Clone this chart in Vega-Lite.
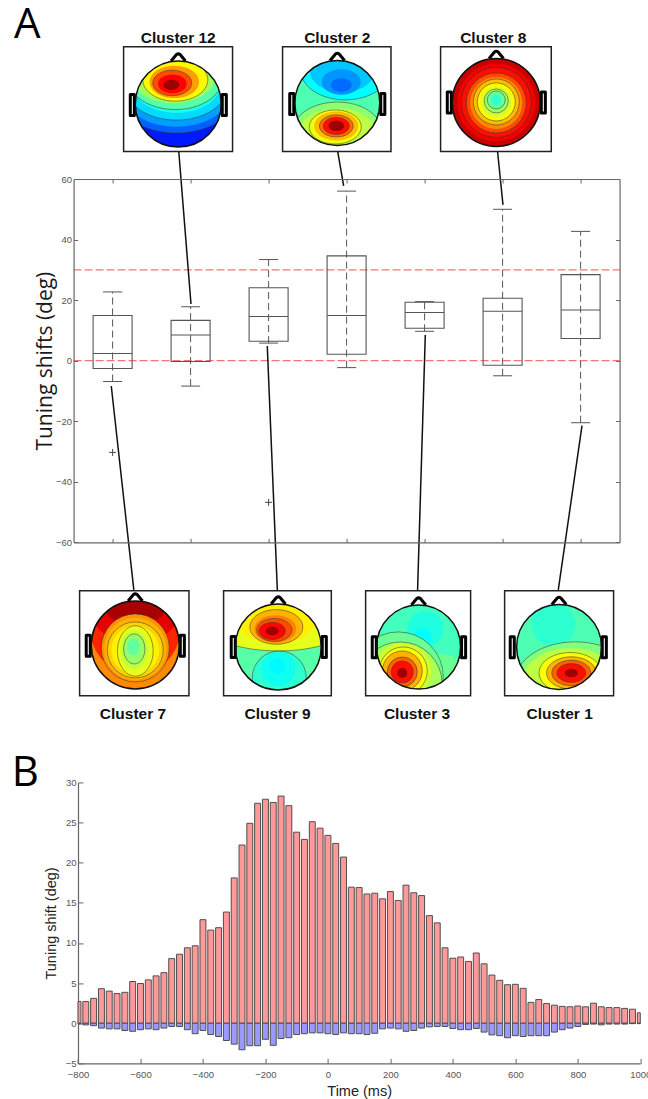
{
"$schema":"https://vega.github.io/schema/vega-lite/v6.json",
"background":"white",
"padding":{"left":-24.4,"top":-57,"right":56,"bottom":0},
"bounds":"flush",
"spacing":239.4,
"config":{"view":{"stroke":null},"font":"Liberation Sans","scale":{"continuousPadding":0}},
"datasets":{
"maps":[
{"m":12,"x":1.842,"y":84.79,"radius":1.0,"level":0.15,"form":"c","line":0},
{"m":12,"x":1.817,"y":88.09,"radius":1.07,"level":0.22,"form":"w","line":1},
{"m":12,"x":1.817,"y":89.09,"radius":0.977,"level":0.28,"form":"w","line":0},
{"m":12,"x":1.817,"y":90.41,"radius":0.907,"level":0.34,"form":"w","line":1},
{"m":12,"x":1.817,"y":91.4,"radius":0.791,"level":0.4,"form":"w","line":0},
{"m":12,"x":1.804,"y":93.05,"radius":0.837,"level":0.46,"form":"w","line":1},
{"m":12,"x":1.778,"y":94.37,"radius":0.767,"level":0.53,"form":"w","line":0},
{"m":12,"x":1.804,"y":92.72,"radius":0.581,"level":0.63,"form":"w","line":1},
{"m":12,"x":1.791,"y":92.06,"radius":0.442,"level":0.72,"form":"w","line":0},
{"m":12,"x":1.765,"y":91.73,"radius":0.349,"level":0.8,"form":"w","line":1},
{"m":12,"x":1.765,"y":91.4,"radius":0.256,"level":0.875,"form":"w","line":0},
{"m":12,"x":1.753,"y":91.07,"radius":0.14,"level":0.97,"form":"w","line":0},
{"m":2,"x":3.881,"y":85.12,"radius":0.988,"level":0.45,"form":"c","line":0},
{"m":2,"x":3.983,"y":95.69,"radius":0.791,"level":0.375,"form":"w","line":1},
{"m":2,"x":3.945,"y":95.69,"radius":0.581,"level":0.32,"form":"w","line":0},
{"m":2,"x":3.932,"y":92.06,"radius":0.349,"level":0.27,"form":"w","line":0},
{"m":2,"x":3.932,"y":91.07,"radius":0.186,"level":0.23,"form":"w","line":0},
{"m":2,"x":3.881,"y":75.87,"radius":0.791,"level":0.51,"form":"w","line":1},
{"m":2,"x":3.881,"y":74.88,"radius":0.698,"level":0.56,"form":"w","line":0},
{"m":2,"x":3.855,"y":77.19,"radius":0.465,"level":0.61,"form":"w","line":1},
{"m":2,"x":3.868,"y":77.52,"radius":0.395,"level":0.69,"form":"w","line":0},
{"m":2,"x":3.868,"y":77.52,"radius":0.302,"level":0.77,"form":"w","line":1},
{"m":2,"x":3.868,"y":77.52,"radius":0.233,"level":0.86,"form":"w","line":1},
{"m":2,"x":3.868,"y":77.52,"radius":0.14,"level":0.97,"form":"w","line":0},
{"m":8,"x":5.919,"y":85.29,"radius":1.023,"level":0.93,"form":"c","line":0},
{"m":8,"x":5.919,"y":85.29,"radius":0.907,"level":0.89,"form":"c","line":0},
{"m":8,"x":5.919,"y":85.29,"radius":0.814,"level":0.86,"form":"c","line":1},
{"m":8,"x":5.919,"y":85.12,"radius":0.698,"level":0.8,"form":"c","line":1},
{"m":8,"x":5.919,"y":85.12,"radius":0.605,"level":0.74,"form":"c","line":0},
{"m":8,"x":5.919,"y":85.45,"radius":0.535,"level":0.69,"form":"c","line":1},
{"m":8,"x":5.919,"y":85.45,"radius":0.442,"level":0.63,"form":"c","line":1},
{"m":8,"x":5.919,"y":85.45,"radius":0.349,"level":0.58,"form":"c","line":0},
{"m":8,"x":5.919,"y":85.78,"radius":0.279,"level":0.53,"form":"c","line":1},
{"m":8,"x":5.919,"y":86.11,"radius":0.209,"level":0.47,"form":"c","line":1},
{"m":8,"x":5.919,"y":86.11,"radius":0.116,"level":0.42,"form":"c","line":0},
{"m":7,"x":1.291,"y":-93.91,"radius":1.023,"level":0.74,"form":"c","line":0},
{"m":7,"x":1.291,"y":-88.62,"radius":1.047,"level":0.84,"form":"c","line":0},
{"m":7,"x":1.291,"y":-84.33,"radius":0.744,"level":0.9,"form":"w","line":0},
{"m":7,"x":1.291,"y":-80.7,"radius":0.558,"level":0.96,"form":"w","line":0},
{"m":7,"x":1.291,"y":-94.9,"radius":0.791,"level":0.73,"form":"c","line":1},
{"m":7,"x":1.291,"y":-95.23,"radius":0.721,"level":0.7,"form":"c","line":0},
{"m":7,"x":1.291,"y":-95.56,"radius":0.651,"level":0.67,"form":"c","line":1},
{"m":7,"x":1.291,"y":-95.56,"radius":0.558,"level":0.64,"form":"c","line":0},
{"m":7,"x":1.291,"y":-95.89,"radius":0.488,"level":0.6,"form":"t","line":1},
{"m":7,"x":1.278,"y":-95.56,"radius":0.372,"level":0.565,"form":"t","line":0},
{"m":7,"x":1.278,"y":-95.23,"radius":0.291,"level":0.52,"form":"t","line":1},
{"m":7,"x":1.265,"y":-94.57,"radius":0.163,"level":0.47,"form":"t","line":0},
{"m":9,"x":3.124,"y":-94.57,"radius":1.0,"level":0.46,"form":"c","line":0},
{"m":9,"x":3.124,"y":-87.96,"radius":0.93,"level":0.6,"form":"f","line":1},
{"m":9,"x":3.099,"y":-85.32,"radius":0.698,"level":0.64,"form":"w","line":0},
{"m":9,"x":3.099,"y":-87.96,"radius":0.474,"level":0.7,"form":"w","line":1},
{"m":9,"x":3.086,"y":-88.62,"radius":0.372,"level":0.75,"form":"w","line":0},
{"m":9,"x":3.073,"y":-88.95,"radius":0.314,"level":0.8,"form":"w","line":1},
{"m":9,"x":3.047,"y":-89.28,"radius":0.233,"level":0.87,"form":"w","line":1},
{"m":9,"x":3.047,"y":-89.28,"radius":0.116,"level":0.97,"form":"w","line":0},
{"m":9,"x":3.137,"y":-104.81,"radius":0.628,"level":0.42,"form":"c","line":1},
{"m":9,"x":3.124,"y":-101.83,"radius":0.395,"level":0.39,"form":"c","line":0},
{"m":9,"x":3.112,"y":-100.84,"radius":0.186,"level":0.37,"form":"c","line":0},
{"m":3,"x":4.923,"y":-94.57,"radius":0.977,"level":0.44,"form":"c","line":0},
{"m":3,"x":5.009,"y":-88.62,"radius":0.419,"level":0.405,"form":"c","line":0},
{"m":3,"x":4.971,"y":-91.27,"radius":0.209,"level":0.375,"form":"c","line":0},
{"m":3,"x":4.663,"y":-104.48,"radius":1.047,"level":0.48,"form":"c","line":1},
{"m":3,"x":5.201,"y":-108.44,"radius":0.814,"level":0.48,"form":"c","line":0},
{"m":3,"x":4.688,"y":-106.79,"radius":0.977,"level":0.54,"form":"c","line":1},
{"m":3,"x":4.727,"y":-102.49,"radius":0.651,"level":0.58,"form":"c","line":0},
{"m":3,"x":4.727,"y":-102.49,"radius":0.558,"level":0.62,"form":"c","line":1},
{"m":3,"x":4.714,"y":-102.49,"radius":0.465,"level":0.7,"form":"c","line":1},
{"m":3,"x":4.714,"y":-102.83,"radius":0.349,"level":0.78,"form":"c","line":1},
{"m":3,"x":4.714,"y":-102.83,"radius":0.256,"level":0.86,"form":"c","line":1},
{"m":3,"x":4.714,"y":-103.16,"radius":0.116,"level":0.97,"form":"c","line":0},
{"m":1,"x":6.724,"y":-94.57,"radius":0.988,"level":0.45,"form":"c","line":0},
{"m":1,"x":6.65,"y":-86.97,"radius":0.512,"level":0.42,"form":"c","line":0},
{"m":1,"x":6.932,"y":-105.8,"radius":1.07,"level":0.5,"form":"w","line":1},
{"m":1,"x":6.868,"y":-105.14,"radius":0.837,"level":0.56,"form":"w","line":0},
{"m":1,"x":6.868,"y":-103.16,"radius":0.558,"level":0.62,"form":"w","line":1},
{"m":1,"x":6.881,"y":-103.16,"radius":0.442,"level":0.7,"form":"w","line":1},
{"m":1,"x":6.881,"y":-103.16,"radius":0.349,"level":0.78,"form":"w","line":1},
{"m":1,"x":6.881,"y":-103.16,"radius":0.256,"level":0.86,"form":"w","line":1},
{"m":1,"x":6.881,"y":-103.16,"radius":0.116,"level":0.97,"form":"w","line":0}
],
"heads":[
{"m":12,"x":1.842,"y":84.79,"radius":1.0,"outer":1.535},
{"m":2,"x":3.881,"y":85.12,"radius":0.988,"outer":1.523},
{"m":8,"x":5.919,"y":85.29,"radius":1.023,"outer":1.558},
{"m":7,"x":1.291,"y":-93.91,"radius":1.023,"outer":1.558},
{"m":9,"x":3.124,"y":-94.57,"radius":1.0,"outer":1.535},
{"m":3,"x":4.923,"y":-94.57,"radius":0.977,"outer":1.512},
{"m":1,"x":6.724,"y":-94.57,"radius":0.988,"outer":1.523}
],
"parts":[
{"x":1.842,"y":100.15,"part":"nose"},{"x":1.253,"y":84.46,"part":"ear"},{"x":2.432,"y":84.46,"part":"ear"},
{"x":3.881,"y":100.32,"part":"nose"},{"x":3.297,"y":84.79,"part":"ear"},{"x":4.464,"y":84.79,"part":"ear"},
{"x":5.919,"y":100.98,"part":"nose"},{"x":5.317,"y":85.23,"part":"ear"},{"x":6.522,"y":85.23,"part":"ear"},
{"x":1.291,"y":-78.22,"part":"nose"},{"x":0.688,"y":-94.14,"part":"ear"},{"x":1.894,"y":-94.14,"part":"ear"},
{"x":3.124,"y":-79.21,"part":"nose"},{"x":2.547,"y":-94.57,"part":"ear"},{"x":3.714,"y":-94.57,"part":"ear"},
{"x":4.923,"y":-79.54,"part":"nose"},{"x":4.355,"y":-94.67,"part":"ear"},{"x":5.5,"y":-94.67,"part":"ear"},
{"x":6.724,"y":-79.37,"part":"nose"},{"x":6.124,"y":-94.67,"part":"ear"},{"x":7.304,"y":-94.67,"part":"ear"}
],
"frames":[
{"x":1.141,"x2":2.538,"y":103.72,"y2":69.1},
{"x":3.179,"x2":4.569,"y":103.72,"y2":69.1},
{"x":5.205,"x2":6.624,"y":103.72,"y2":69.1},
{"x":0.577,"x2":1.979,"y":-75.97,"y2":-110.65},
{"x":2.423,"x2":3.804,"y":-75.97,"y2":-110.65},
{"x":4.244,"x2":5.59,"y":-75.97,"y2":-110.65},
{"x":6.026,"x2":7.423,"y":-75.97,"y2":-110.65}
],
"links":[
{"x":1.849,"y":68.93,"x2":2.005,"y2":18.73},
{"x":3.887,"y":68.93,"x2":3.962,"y2":57.7},
{"x":5.936,"y":68.93,"x2":6.005,"y2":51.43},
{"x":0.983,"y":-8.36,"x2":1.272,"y2":-75.74},
{"x":2.983,"y":4.86,"x2":3.112,"y2":-75.74},
{"x":5.009,"y":8.49,"x2":4.91,"y2":-75.74},
{"x":7.018,"y":-21.47,"x2":6.714,"y2":-75.74}
],
"boxes":[
{"x":1,"q1":-2.6,"med":2.4,"q3":14.9,"lo":-6.9,"hi":22.7},
{"x":2,"q1":-0.3,"med":8.5,"q3":13.3,"lo":-8.4,"hi":17.8},
{"x":3,"q1":6.4,"med":14.6,"q3":24.1,"lo":5.8,"hi":33.4},
{"x":4,"q1":2.1,"med":14.9,"q3":34.6,"lo":-2.3,"hi":56},
{"x":5,"q1":10.7,"med":15.9,"q3":19.3,"lo":9.7,"hi":19.5},
{"x":6,"q1":-1.5,"med":16.3,"q3":20.6,"lo":-5,"hi":50},
{"x":7,"q1":7.3,"med":16.7,"q3":28.4,"lo":-20.5,"hi":42.7}
],
"outliers":[{"x":1,"y":-30.3},{"x":3,"y":-46.8}],
"refs":[{"x":0.5,"x2":7.5,"y":30},{"x":0.5,"x2":7.5,"y":0}],
"titles":[
{"x":1.842,"y":106.65,"label":"Cluster 12"},
{"x":3.881,"y":106.65,"label":"Cluster 2"},
{"x":5.881,"y":106.65,"label":"Cluster 8"},
{"x":1.261,"y":-116.8,"label":"Cluster 7"},
{"x":3.115,"y":-116.8,"label":"Cluster 9"},
{"x":4.903,"y":-116.8,"label":"Cluster 3"},
{"x":6.731,"y":-116.8,"label":"Cluster 1"}
],
"letters":[{"x":-0.095,"y":110.9,"label":"A"},{"x":-0.12,"y":-136.2,"label":"B"}],
"tuning":[
{"from":-809.5,"to":-790.5,"up":2.7,"down":-0.1},{"from":-784.5,"to":-765.5,"up":2.7,"down":-0.2},{"from":-759.5,"to":-740.5,"up":3.1,"down":-0.3},{"from":-734.5,"to":-715.5,"up":4.3,"down":-0.6},{"from":-709.5,"to":-690.5,"up":4.0,"down":-0.7},{"from":-684.5,"to":-665.5,"up":3.7,"down":-0.7},{"from":-659.5,"to":-640.5,"up":3.85,"down":-0.9},{"from":-634.5,"to":-615.5,"up":5.2,"down":-1.0},{"from":-609.5,"to":-590.5,"up":4.95,"down":-0.8},{"from":-584.5,"to":-565.5,"up":5.4,"down":-0.7},{"from":-559.5,"to":-540.5,"up":5.9,"down":-0.8},{"from":-534.5,"to":-515.5,"up":6.3,"down":-0.6},{"from":-509.5,"to":-490.5,"up":8.05,"down":-0.4},{"from":-484.5,"to":-465.5,"up":8.6,"down":-0.4},{"from":-459.5,"to":-440.5,"up":9.4,"down":-0.8},{"from":-434.5,"to":-415.5,"up":9.65,"down":-1.3},{"from":-409.5,"to":-390.5,"up":12.9,"down":-0.9},{"from":-384.5,"to":-365.5,"up":11.6,"down":-1.4},{"from":-359.5,"to":-340.5,"up":11.9,"down":-1.65},{"from":-334.5,"to":-315.5,"up":13.85,"down":-2.15},{"from":-309.5,"to":-290.5,"up":18.1,"down":-2.6},{"from":-284.5,"to":-265.5,"up":22.2,"down":-3.3},{"from":-259.5,"to":-240.5,"up":24.9,"down":-2.8},{"from":-234.5,"to":-215.5,"up":27.4,"down":-2.8},{"from":-209.5,"to":-190.5,"up":27.9,"down":-2.0},{"from":-184.5,"to":-165.5,"up":27.5,"down":-2.75},{"from":-159.5,"to":-140.5,"up":28.3,"down":-1.9},{"from":-134.5,"to":-115.5,"up":27.1,"down":-1.8},{"from":-109.5,"to":-90.5,"up":23.8,"down":-1.4},{"from":-84.5,"to":-65.5,"up":22.9,"down":-1.3},{"from":-59.5,"to":-40.5,"up":25.1,"down":-1.2},{"from":-34.5,"to":-15.5,"up":24.3,"down":-1.2},{"from":-9.5,"to":9.5,"up":23.4,"down":-1.3},{"from":15.5,"to":34.5,"up":22.4,"down":-1.4},{"from":40.5,"to":59.5,"up":20.7,"down":-1.2},{"from":65.5,"to":84.5,"up":16.95,"down":-1.3},{"from":90.5,"to":109.5,"up":16.9,"down":-1.3},{"from":115.5,"to":134.5,"up":16.1,"down":-1.4},{"from":140.5,"to":159.5,"up":16.2,"down":-1.25},{"from":165.5,"to":184.5,"up":15.5,"down":-0.7},{"from":190.5,"to":209.5,"up":16.4,"down":-0.6},{"from":215.5,"to":234.5,"up":15.3,"down":-0.7},{"from":240.5,"to":259.5,"up":17.2,"down":-1.0},{"from":265.5,"to":284.5,"up":16.25,"down":-0.9},{"from":290.5,"to":309.5,"up":15.9,"down":-0.6},{"from":315.5,"to":334.5,"up":13.4,"down":-0.45},{"from":340.5,"to":359.5,"up":12.5,"down":-0.4},{"from":365.5,"to":384.5,"up":9.4,"down":-0.4},{"from":390.5,"to":409.5,"up":8.1,"down":-0.65},{"from":415.5,"to":434.5,"up":8.25,"down":-0.8},{"from":440.5,"to":459.5,"up":7.7,"down":-0.8},{"from":465.5,"to":484.5,"up":8.75,"down":-0.65},{"from":490.5,"to":509.5,"up":7.4,"down":-1.1},{"from":515.5,"to":534.5,"up":6.0,"down":-1.45},{"from":540.5,"to":559.5,"up":5.35,"down":-1.55},{"from":565.5,"to":584.5,"up":4.8,"down":-1.8},{"from":590.5,"to":609.5,"up":4.85,"down":-1.55},{"from":615.5,"to":634.5,"up":4.35,"down":-1.65},{"from":640.5,"to":659.5,"up":2.6,"down":-1.55},{"from":665.5,"to":684.5,"up":2.95,"down":-1.55},{"from":690.5,"to":709.5,"up":2.45,"down":-1.55},{"from":715.5,"to":734.5,"up":2.25,"down":-1.1},{"from":740.5,"to":759.5,"up":2.1,"down":-0.8},{"from":765.5,"to":784.5,"up":2.05,"down":-0.6},{"from":790.5,"to":809.5,"up":2.15,"down":-0.4},{"from":815.5,"to":834.5,"up":2.05,"down":-0.15},{"from":840.5,"to":859.5,"up":2.5,"down":-0.1},{"from":865.5,"to":884.5,"up":2.05,"down":-0.2},{"from":890.5,"to":909.5,"up":1.95,"down":-0.1},{"from":915.5,"to":934.5,"up":1.95,"down":-0.1},{"from":940.5,"to":959.5,"up":1.85,"down":-0.1},{"from":965.5,"to":984.5,"up":1.75,"down":-0.05},{"from":990.5,"to":1009.5,"up":1.3,"down":-0.05}
]
},
"vconcat":[
{
"width":546,"height":363.3,
"encoding":{
"x":{"field":"x","type":"quantitative","scale":{"domain":[0.5,7.5],"nice":false,"zero":false,"padding":0},"axis":null},
"y":{"field":"y","type":"quantitative","scale":{"domain":[-60,60],"nice":false,"zero":false},"axis":null}
},
"layer":[
{"data":{"name":"maps"},
 "mark":{"type":"point","filled":true,"opacity":1,"strokeWidth":0},
 "encoding":{
  "size":{"field":"radius","type":"quantitative","legend":null,"scale":{"type":"pow","exponent":2,"domain":[0,1],"range":[0,7396]}},
  "color":{"field":"level","type":"quantitative","legend":null,"scale":{"domain":[0,0.125,0.375,0.625,0.875,1],"range":["#00008f","#0000ff","#00ffff","#ffff00","#ff0000","#800000"],"interpolate":"rgb"}},
  "shape":{"field":"form","type":"nominal","legend":null,"scale":{"domain":["c","w","t","f","nose","ear"],"range":["circle","M-1.3,0A1.3,.85 0 1 0 1.3,0A1.3,.85 0 1 0 -1.3,0Z","M-.85,0A.85,1.2 0 1 0 .85,0A.85,1.2 0 1 0 -.85,0Z","M-1.7,0A1.7,.6 0 1 0 1.7,0A1.7,.6 0 1 0 -1.7,0Z","M-.6,.3L-.15,-.25Q0,-.35 .15,-.25L.6,.3","M-.17,-.875H.17V.875H-.17Z"]}}
 }},
{"data":{"name":"maps"},"transform":[{"filter":"datum.line==1"}],
 "mark":{"type":"point","filled":false,"opacity":0.65,"stroke":"#333333","strokeWidth":0.8},
 "encoding":{
  "size":{"field":"radius","type":"quantitative","legend":null,"scale":{"type":"pow","exponent":2,"domain":[0,1],"range":[0,7396]}},
  "shape":{"field":"form","type":"nominal","legend":null,"scale":{"domain":["c","w","t","f","nose","ear"],"range":["circle","M-1.3,0A1.3,.85 0 1 0 1.3,0A1.3,.85 0 1 0 -1.3,0Z","M-.85,0A.85,1.2 0 1 0 .85,0A.85,1.2 0 1 0 -.85,0Z","M-1.7,0A1.7,.6 0 1 0 1.7,0A1.7,.6 0 1 0 -1.7,0Z","M-.6,.3L-.15,-.25Q0,-.35 .15,-.25L.6,.3","M-.17,-.875H.17V.875H-.17Z"]}}
 }},
{"data":{"name":"heads"},
 "mark":{"type":"point","filled":false,"opacity":1,"stroke":"white","strokeWidth":46},
 "encoding":{"size":{"field":"outer","type":"quantitative","legend":null,"scale":{"type":"pow","exponent":2,"domain":[0,1],"range":[0,7396]}}}},
{"data":{"name":"frames"},
 "mark":{"type":"rect","fillOpacity":0,"stroke":"#222222","strokeWidth":1.5},
 "encoding":{"x2":{"field":"x2"},"y2":{"field":"y2"}}},
{"data":{"name":"parts"},
 "mark":{"type":"point","filled":true,"fill":"white","opacity":1,"stroke":"black","strokeWidth":3,"size":576,"strokeJoin":"round"},
 "encoding":{"shape":{"field":"part","type":"nominal","legend":null,"scale":{"domain":["c","w","t","f","nose","ear"],"range":["circle","M-1.3,0A1.3,.85 0 1 0 1.3,0A1.3,.85 0 1 0 -1.3,0Z","M-.85,0A.85,1.2 0 1 0 .85,0A.85,1.2 0 1 0 -.85,0Z","M-1.7,0A1.7,.6 0 1 0 1.7,0A1.7,.6 0 1 0 -1.7,0Z","M-.6,.3L-.15,-.25Q0,-.35 .15,-.25L.6,.3","M-.17,-.875H.17V.875H-.17Z"]}}}},
{"data":{"name":"heads"},
 "mark":{"type":"point","filled":false,"opacity":1,"stroke":"#111111","strokeWidth":1.5},
 "encoding":{"size":{"field":"radius","type":"quantitative","legend":null,"scale":{"type":"pow","exponent":2,"domain":[0,1],"range":[0,7396]}}}},
{"data":{"name":"refs"},
 "mark":{"type":"rule","stroke":"#ff7272","strokeWidth":1.2,"strokeDash":[8,3]},
 "encoding":{"x2":{"field":"x2"}}},
{"data":{"name":"boxes"},
 "mark":{"type":"rule","stroke":"#555555","strokeWidth":1,"strokeDash":[7,4]},
 "encoding":{
  "x":{"field":"x","type":"quantitative","scale":{"domain":[0.5,7.5],"nice":false,"zero":false,"padding":0},
    "axis":{"orient":"top","values":[1,2,3,4,5,6,7],"labels":false,"title":null,"grid":false,"tickSize":-4,"tickColor":"#666666","domainColor":"#666666","domainWidth":1.2,"zindex":1}},
  "y":{"field":"lo","type":"quantitative","scale":{"domain":[-60,60],"nice":false,"zero":false},
    "axis":{"orient":"right","values":[-60,-40,-20,0,20,40,60],"labels":false,"title":null,"grid":false,"tickSize":-4,"tickColor":"#666666","domainColor":"#666666","domainWidth":1.2,"zindex":1}},
  "y2":{"field":"hi"}}},
{"data":{"name":"boxes"},
 "mark":{"type":"bar","orient":"vertical","size":39,"fillOpacity":0,"stroke":"#555555","strokeWidth":1.1},
 "encoding":{
  "x":{"field":"x","type":"quantitative","scale":{"domain":[0.5,7.5],"nice":false,"zero":false,"padding":0},
    "axis":{"orient":"bottom","values":[1,2,3,4,5,6,7],"labels":false,"title":null,"grid":false,"tickSize":-4,"tickColor":"#666666","domainColor":"#666666","domainWidth":1.2,"zindex":1}},
  "y":{"field":"q1","type":"quantitative","stack":null,"scale":{"domain":[-60,60],"nice":false,"zero":false},
    "axis":{"orient":"left","values":[-60,-40,-20,0,20,40,60],"grid":false,"tickSize":-4,"tickColor":"#666666","domainColor":"#666666","domainWidth":1.2,"zindex":1,
      "labelColor":"#555555","labelFont":"Liberation Sans","labelFontSize":9.5,"labelPadding":6,
      "title":"Tuning shifts (deg)","titleFont":"Open Sans","titleFontSize":21,"titleFontWeight":"normal","titleColor":"#1a1a1a","titlePadding":-0.5}},
  "y2":{"field":"q3"}}},
{"data":{"name":"boxes"},
 "mark":{"type":"tick","orient":"horizontal","size":39,"thickness":1,"color":"#555555","opacity":1},
 "encoding":{"y":{"field":"med","type":"quantitative","scale":{"domain":[-60,60],"nice":false,"zero":false},"axis":null}}},
{"data":{"name":"boxes"},
 "mark":{"type":"tick","orient":"horizontal","size":19,"thickness":1,"color":"#555555","opacity":1},
 "encoding":{"y":{"field":"lo","type":"quantitative","scale":{"domain":[-60,60],"nice":false,"zero":false},"axis":null}}},
{"data":{"name":"boxes"},
 "mark":{"type":"tick","orient":"horizontal","size":19,"thickness":1,"color":"#555555","opacity":1},
 "encoding":{"y":{"field":"hi","type":"quantitative","scale":{"domain":[-60,60],"nice":false,"zero":false},"axis":null}}},
{"data":{"name":"outliers"},
 "mark":{"type":"point","shape":"M-1,0H1M0,-1V1","size":49,"filled":false,"opacity":1,"stroke":"#444444","strokeWidth":1}},
{"data":{"name":"links"},
 "mark":{"type":"rule","stroke":"#111111","strokeWidth":1.5},
 "encoding":{"x2":{"field":"x2"},"y2":{"field":"y2"}}},
{"data":{"name":"titles"},
 "mark":{"type":"text","font":"Liberation Sans","fontWeight":"bold","fontSize":15.5,"color":"#111111","align":"center","baseline":"middle"},
 "encoding":{"text":{"field":"label"}}},
{"data":{"name":"letters"},
 "mark":{"type":"text","font":"Open Sans","fontSize":42,"color":"#000000","align":"center","baseline":"middle"},
 "encoding":{"text":{"field":"label"}}}
],
"resolve":{"axis":{"x":"independent","y":"independent"}}
},
{
"width":567,"height":281,
"data":{"name":"tuning"},
"layer":[
{"mark":{"type":"rect","fill":"#ff9999","stroke":"#4d4d4d","strokeWidth":1},
 "encoding":{
  "x":{"field":"from","type":"quantitative","scale":{"domain":[-800,1000],"range":[4.4,566.7],"clamp":true,"nice":false,"zero":false},
    "axis":{"values":[-800,-600,-400,-200,0,200,400,600,800,1000],"format":"d","grid":false,"tickSize":-5,"tickColor":"#666666","domainColor":"#666666","domainWidth":1.2,"labelColor":"#555555","labelFont":"Liberation Sans","labelFontSize":9.5,"labelPadding":11,"labelFlush":false,"title":"Time (ms)","titleFont":"Liberation Sans","titleFontSize":14.5,"titleFontWeight":"normal","titleColor":"#222222","titlePadding":6}},
  "x2":{"field":"to"},
  "y":{"field":"up","type":"quantitative","scale":{"domain":[-5,30],"nice":false,"zero":false},
    "axis":{"values":[-5,0,5,10,15,20,25,30],"offset":-4.4,"grid":false,"tickSize":-5,"tickColor":"#666666","domainColor":"#666666","domainWidth":1.2,"labelColor":"#555555","labelFont":"Liberation Sans","labelFontSize":9.5,"labelPadding":7,"title":"Tuning shift (deg)","titleFont":"Liberation Sans","titleFontSize":14.5,"titleFontWeight":"normal","titleColor":"#222222","titlePadding":7}},
  "y2":{"datum":0}}},
{"mark":{"type":"rect","fill":"#9999ff","stroke":"#4d4d4d","strokeWidth":1},
 "encoding":{
  "x":{"field":"from","type":"quantitative","scale":{"domain":[-800,1000],"range":[4.4,566.7],"clamp":true,"nice":false,"zero":false},"axis":null},
  "x2":{"field":"to"},
  "y":{"field":"down","type":"quantitative","scale":{"domain":[-5,30],"nice":false,"zero":false},"axis":null},
  "y2":{"datum":0}}}
],
"resolve":{"axis":{"x":"independent","y":"independent"}}
}
]
}
